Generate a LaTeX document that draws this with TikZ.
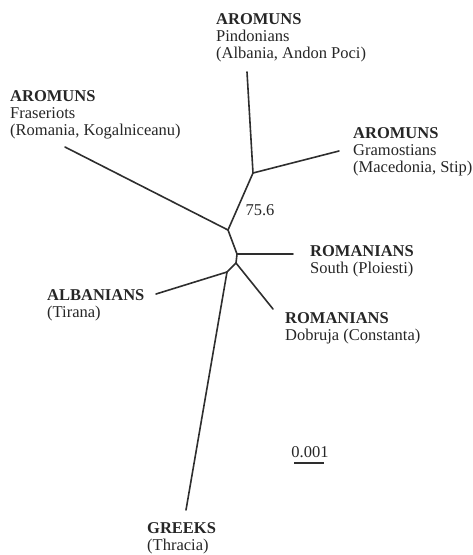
\documentclass[tikz,border=0pt]{standalone}
\usepackage{fontspec}
\setmainfont{Liberation Serif}
\begin{document}
\begin{tikzpicture}[x=1pt,y=-1pt,
  branch/.style={line width=1.6pt,draw=black!82,line cap=round,line join=round},
  lab/.style={anchor=north west,inner sep=0pt,align=left,font=\fontsize{16.5}{17}\selectfont,text=black!85},
  plain/.style={inner sep=0pt,font=\fontsize{16.5}{17}\selectfont,text=black!85}]
\useasboundingbox (0,0) rectangle (472,555);
% internal nodes
\coordinate (A) at (253,173);
\coordinate (B) at (228,230);
\coordinate (C) at (237,254);
\coordinate (D) at (236,263);
\coordinate (E) at (227,272);
% tips
\coordinate (pin) at (247,72);
\coordinate (gra) at (339,151);
\coordinate (fra) at (65,147);
\coordinate (rs) at (293,254);
\coordinate (rd) at (273,309);
\coordinate (alb) at (156,294);
\coordinate (gre) at (186,510);
% branches
\draw[branch] (pin) -- (A);
\draw[branch] (gra) -- (A);
\draw[branch] (A) -- (B);
\draw[branch] (fra) -- (B);
\draw[branch] (B) -- (C);
\draw[branch] (rs) -- (C);
\draw[branch] (C) -- (D);
\draw[branch] (rd) -- (D);
\draw[branch] (D) -- (E);
\draw[branch] (alb) -- (E);
\draw[branch] (gre) -- (E);
% labels
\node[lab] (Lpin) at (216,13) {\textbf{AROMUNS}\\Pindonians\\(Albania, Andon Poci)};
\node[lab] (Lfra) at (10,90) {\textbf{AROMUNS}\\Fraseriots\\(Romania, Kogalniceanu)};
\node[lab] (Lgra) at (353,127) {\textbf{AROMUNS}\\Gramostians\\(Macedonia, Stip)};
\node[lab] (Lrs) at (310,245) {\textbf{ROMANIANS}\\South (Ploiesti)};
\node[lab] (Lrd) at (285,312) {\textbf{ROMANIANS}\\Dobruja (Constanta)};
\node[lab] (Lalb) at (47,289) {\textbf{ALBANIANS}\\(Tirana)};
\node[lab] (Lgre) at (147,522) {\textbf{GREEKS}\\(Thracia)};
\node[plain] (boot) at (260,210) {75.6};
\node[plain] (scale) at (310,452) {0.001};
\coordinate (s1) at (294,463);
\coordinate (s2) at (324,463);
\draw[line width=2pt,draw=black!82] (s1) -- (s2);
\end{tikzpicture}
\end{document}
